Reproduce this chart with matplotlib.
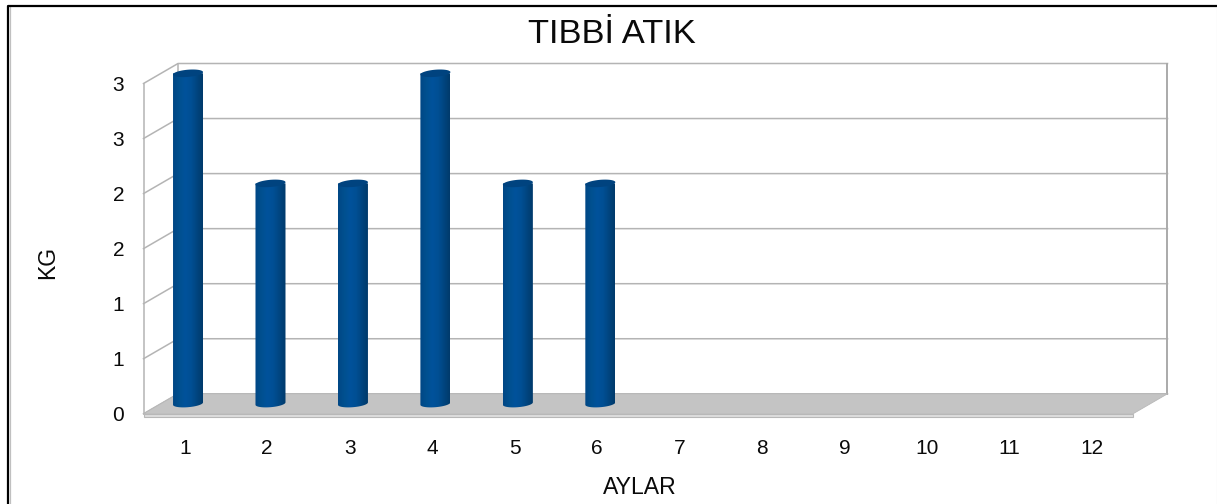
#!/usr/bin/env python3
"""Bar chart of monthly medical waste (TIBBİ ATIK), drawn as fake-3D cylinders."""

import numpy as np
import matplotlib
matplotlib.use("Agg")
import matplotlib.pyplot as plt
from matplotlib.patches import Polygon, Rectangle
from matplotlib.colors import LinearSegmentedColormap

months = [1, 2, 3, 4, 5, 6, 7, 8, 9, 10, 11, 12]
waste_kg = [3, 2, 2, 3, 2, 2]
y_ticks = [0, 0.5, 1, 1.5, 2, 2.5, 3]
y_labels = ["0", "1", "1", "2", "2", "3", "3"]

W, H = 1217, 504
plt.rcParams["font.family"] = ["Liberation Sans", "DejaVu Sans"]

fig = plt.figure(figsize=(W / 100, H / 100), dpi=100)

# front plane of the box, in pixels
left, right, bottom, top = 143.5, 1133, 413.8, 83.5
ax = fig.add_axes([left / W, 1 - bottom / H, (right - left) / W, (bottom - top) / H])

px_x = 12 / (right - left)
px_y = 3 / (bottom - top)
dx = 34.5 * px_x  # depth offset
dy = 20 * px_y
grid = "#b4b4b4"

# outer frame: black top and left with a grey shadow, cropped at the bottom
fig.add_artist(plt.Line2D([9.7 / W, 9.7 / W], [0, 1 - 7 / H], color="#c0c0c0", lw=0.9))
fig.add_artist(plt.Line2D([8 / W, 8 / W, W / W], [0, 1 - 6 / H, 1 - 6 / H],
                          color="black", lw=1.6))
fig.add_artist(plt.Line2D([1216.5 / W, 1216.5 / W], [0, 1 - 7 / H], color="#ececec", lw=0.9))

# walls
for v in y_ticks:
    ax.plot([0.5, 0.5 + dx, 12.5 + dx], [v, v + dy, v + dy], color=grid, lw=1.1,
            clip_on=False, zorder=1)
ax.plot([0.5, 0.5], [0, 3], color=grid, lw=1.1, clip_on=False, zorder=1)
ax.plot([0.5 + dx, 0.5 + dx], [dy, 3 + dy], color=grid, lw=1.1, clip_on=False, zorder=1)
ax.plot([12.5 + dx, 12.5 + dx], [dy, 3 + dy], color="#aaaaaa", lw=1.4, clip_on=False, zorder=1)

# floor with its lighter front edge
ax.add_patch(Polygon([(0.5, 0), (0.5 + dx, dy), (12.5 + dx, dy), (12.5, 0)],
                     facecolor="#c4c4c4", edgecolor="#b8b8b8", lw=0.6,
                     clip_on=False, zorder=2))
ax.add_patch(Rectangle((0.5, -3 * px_y), 12, 3 * px_y, facecolor="#dedede",
                       edgecolor="#b8b8b8", lw=0.8, clip_on=False, zorder=2))

# cylinders
cyl_cmap = LinearSegmentedColormap.from_list(
    "cyl", ["#004785", "#00508f", "#00529b", "#004f94", "#004580", "#003a6b"])
half = 15 * px_x
a_y = 3.6 * px_y
tilt = 1.2 * px_y
base = 10.2 * px_y
shift = 3.3 * px_x
gradient = np.linspace(0, 1, 64).reshape(1, -1)
t = np.linspace(0, 2 * np.pi, 80)

for month, val in zip(months, waste_kg):
    xc = month + shift
    y0 = base
    y1 = base + val
    # outline: flat sides, rounded bottom
    tb = np.linspace(np.pi, 2 * np.pi, 30)
    xs = np.r_[xc - half, xc + half * np.cos(tb), xc + half]
    ys = np.r_[y1, y0 + a_y * np.sin(tb) + tilt * np.cos(tb), y1]
    outline = Polygon(np.c_[xs, ys], closed=True, facecolor="none", edgecolor="none")
    ax.add_patch(outline)
    im = ax.imshow(gradient, extent=(xc - half, xc + half, y0 - 2 * a_y, y1), cmap=cyl_cmap,
                   aspect="auto", zorder=3)
    im.set_clip_path(outline)
    im.set_clip_box(fig.bbox)  # tops rise above the front plane
    # top cap
    cap = Polygon(np.c_[xc + half * np.cos(t), y1 + a_y * np.sin(t) + tilt * np.cos(t)],
                  closed=True, facecolor="#00437f", edgecolor="none", zorder=4, clip_on=False)
    ax.add_patch(cap)

ax.set_xlim(0.5, 12.5)
ax.set_ylim(0, 3)

for side in ax.spines.values():
    side.set_visible(False)
ax.patch.set_alpha(0)
ax.set_xticks(months)
ax.set_xticklabels([str(m) for m in months])
ax.set_yticks(y_ticks)
ax.set_yticklabels(y_labels)
ax.tick_params(axis="both", length=0, labelsize=15, labelcolor="#0a0a0a")
ax.tick_params(axis="x", pad=18.2)
ax.tick_params(axis="y", pad=14)

fig.text(611.5 / W, 1 - 34.5 / H, "TIBBİ ATIK", fontsize=24.8, ha="center", va="center", color="#0a0a0a")
fig.text(640 / W, 1 - 487.5 / H, "AYLAR", fontsize=16.6, ha="center", va="center", color="#0a0a0a")
fig.text(48 / W, 1 - 262 / H, "KG", fontsize=16.6, rotation=90, ha="center", va="center", color="#0a0a0a")

fig.savefig("out.png", dpi=100)
